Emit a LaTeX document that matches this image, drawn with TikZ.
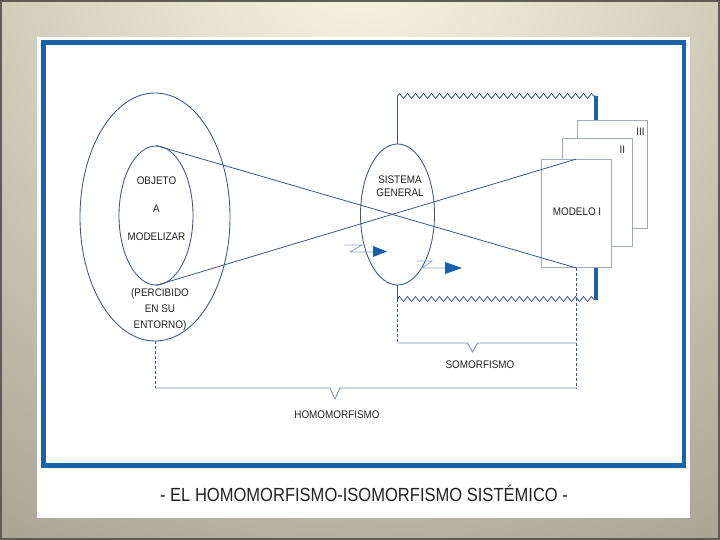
\documentclass[tikz,border=0pt]{standalone}
\usepackage{fontspec}
\usepackage{tikz}
\usetikzlibrary{arrows.meta, positioning, shapes.geometric, decorations.pathmorphing}
\newfontfamily\narrowfont[FakeStretch=0.9]{Liberation Sans}
\newfontfamily\titlefont[FakeStretch=0.87]{Liberation Sans}
\definecolor{bgin}{HTML}{FBF7E2}
\definecolor{bgout}{HTML}{9A978A}
\definecolor{bgedge}{HTML}{5E5C54}
\definecolor{frameblue}{HTML}{1D62A5}
\definecolor{linec}{HTML}{37578A}
\definecolor{brkc}{HTML}{7D92B2}
\definecolor{boxc}{HTML}{A3AAB8}
\definecolor{boltc}{HTML}{8CA6D2}
\definecolor{arrowblue}{HTML}{1660AD}
\definecolor{labelgray}{HTML}{222222}

\begin{document}
\begin{tikzpicture}[
        x=1pt, y=-1pt,
        node distance=6pt,
        oval/.style={ellipse, draw=linec, line width=0.85pt, inner sep=0pt},
        modelo/.style={rectangle, draw=boxc, fill=white, line width=0.7pt, minimum width=70pt, minimum height=108pt, inner sep=0pt},
        lbl/.style={font=\narrowfont\fontsize{11}{13}\selectfont, text=labelgray, inner sep=0pt, align=center},
        ray/.style={draw=linec, line width=0.8pt},
        dashline/.style={draw=linec, line width=0.75pt, dash pattern=on 3pt off 2pt},
        brk/.style={draw=brkc, line width=0.9pt},
        zig/.style={draw=linec, line width=0.75pt, decorate, decoration={zigzag, segment length=8pt, amplitude=2.5pt}},
        bar/.style={draw=frameblue, line width=3.5pt},
        bolt/.style={draw=boltc, line width=0.8pt}
    ]
        \useasboundingbox (0,0) rectangle (720,540);
        \begin{scope}
            \clip (0,0) rectangle (720,540);
            \shade[inner color=bgin, outer color=bgout] (360,-60) circle (820);
        \end{scope}
        \draw[bgedge, line width=2pt] (1,1) rectangle (719,539);
        \fill[white] (37,37) rectangle (690,518);
        \draw[frameblue, line width=4.5pt] (43.5,42.5) rectangle (684,465.5);

        \node[oval, minimum width=150pt, minimum height=248pt] (outer) at (155,217) {};
        \node[oval, minimum width=74pt, minimum height=139pt] (obj) at (156,215.5) {};
        \node[oval, minimum width=74pt, minimum height=141pt] (sis) at (397.5,214.5) {};

        \node[lbl] (objtxt) at (156.5,209) {OBJETO\\[15pt]A\\[15pt]MODELIZAR};
        \node[lbl, font=\narrowfont\fontsize{11}{16}\selectfont] (perc) at (160,310) {(PERCIBIDO\\EN SU\\ENTORNO)};
        \node[lbl] (sistxt) at (400,186) {SISTEMA\\GENERAL};

        \coordinate (yTop) at (0,96);
        \coordinate (yBot) at (0,299);
        \coordinate (barT) at (596,96);
        \coordinate (barB) at (596,300);
        \draw[bar] (barT) -- (barB);

        \node[modelo] (modIII) at (612.5,174.5) {};
        \node[modelo] (modII) at (597,192.5) {};
        \node[modelo] (modI) at (576,213.5) {};
        \node[lbl, below left=8pt and 3pt of modIII.north east] (tIII) {III};
        \node[lbl, below left=8pt and 7pt of modII.north east] (tII) {II};
        \node[lbl] (tI) at (577,212) {MODELO I};

        \draw[ray] (obj.north) -- (modI.south);
        \draw[ray] (obj.south) -- (modI.north);

        \draw[ray] (sis.north) -- (sis.north |- yTop);
        \draw[zig] (sis.north |- yTop) -- (barT);
        \draw[ray] (sis.south) -- (sis.south |- yBot);
        \draw[zig] (sis.south |- yBot) -- (barB |- yBot);

        \coordinate (yIso) at (0,343);
        \coordinate (yHom) at (0,388);
        \draw[dashline] (sis.south |- yBot) -- (sis.south |- yIso);
        \draw[dashline] (modI.south) -- (modI.south |- yHom);
        \draw[dashline] (outer.south) -- (outer.south |- yHom);

        \draw[brk] (sis.south |- yIso) -- ++(70,0) -- ++(5,9) -- ++(5,-9) -- (modI.south |- yIso);
        \draw[brk] (outer.south |- yHom) -- ++(175,0) -- ++(5,11) -- ++(5,-11) -- (modI.south |- yHom);
        \node[lbl] (iso) at (480,365) {SOMORFISMO};
        \node[lbl] (homo) at (337,415) {HOMOMORFISMO};

        \coordinate (b1) at (344,245);
        \draw[bolt] (b1) -- ++(18,0) -- ++(-12,7) -- ++(23,0);
        \fill[arrowblue] (373,246) -- (387,251.5) -- (373,257) -- cycle;
        \coordinate (b2) at (417,261);
        \draw[bolt] (b2) -- ++(15,0) -- ++(-10,7) -- ++(24,0);
        \fill[arrowblue] (445,262) -- (462,268) -- (445,274) -- cycle;

        \node[font=\titlefont\fontsize{19}{22}\selectfont, text=labelgray, inner sep=0pt] (title) at (364,493) {- EL HOMOMORFISMO-ISOMORFISMO SISTÉMICO -};
    \end{tikzpicture}
\end{document}
